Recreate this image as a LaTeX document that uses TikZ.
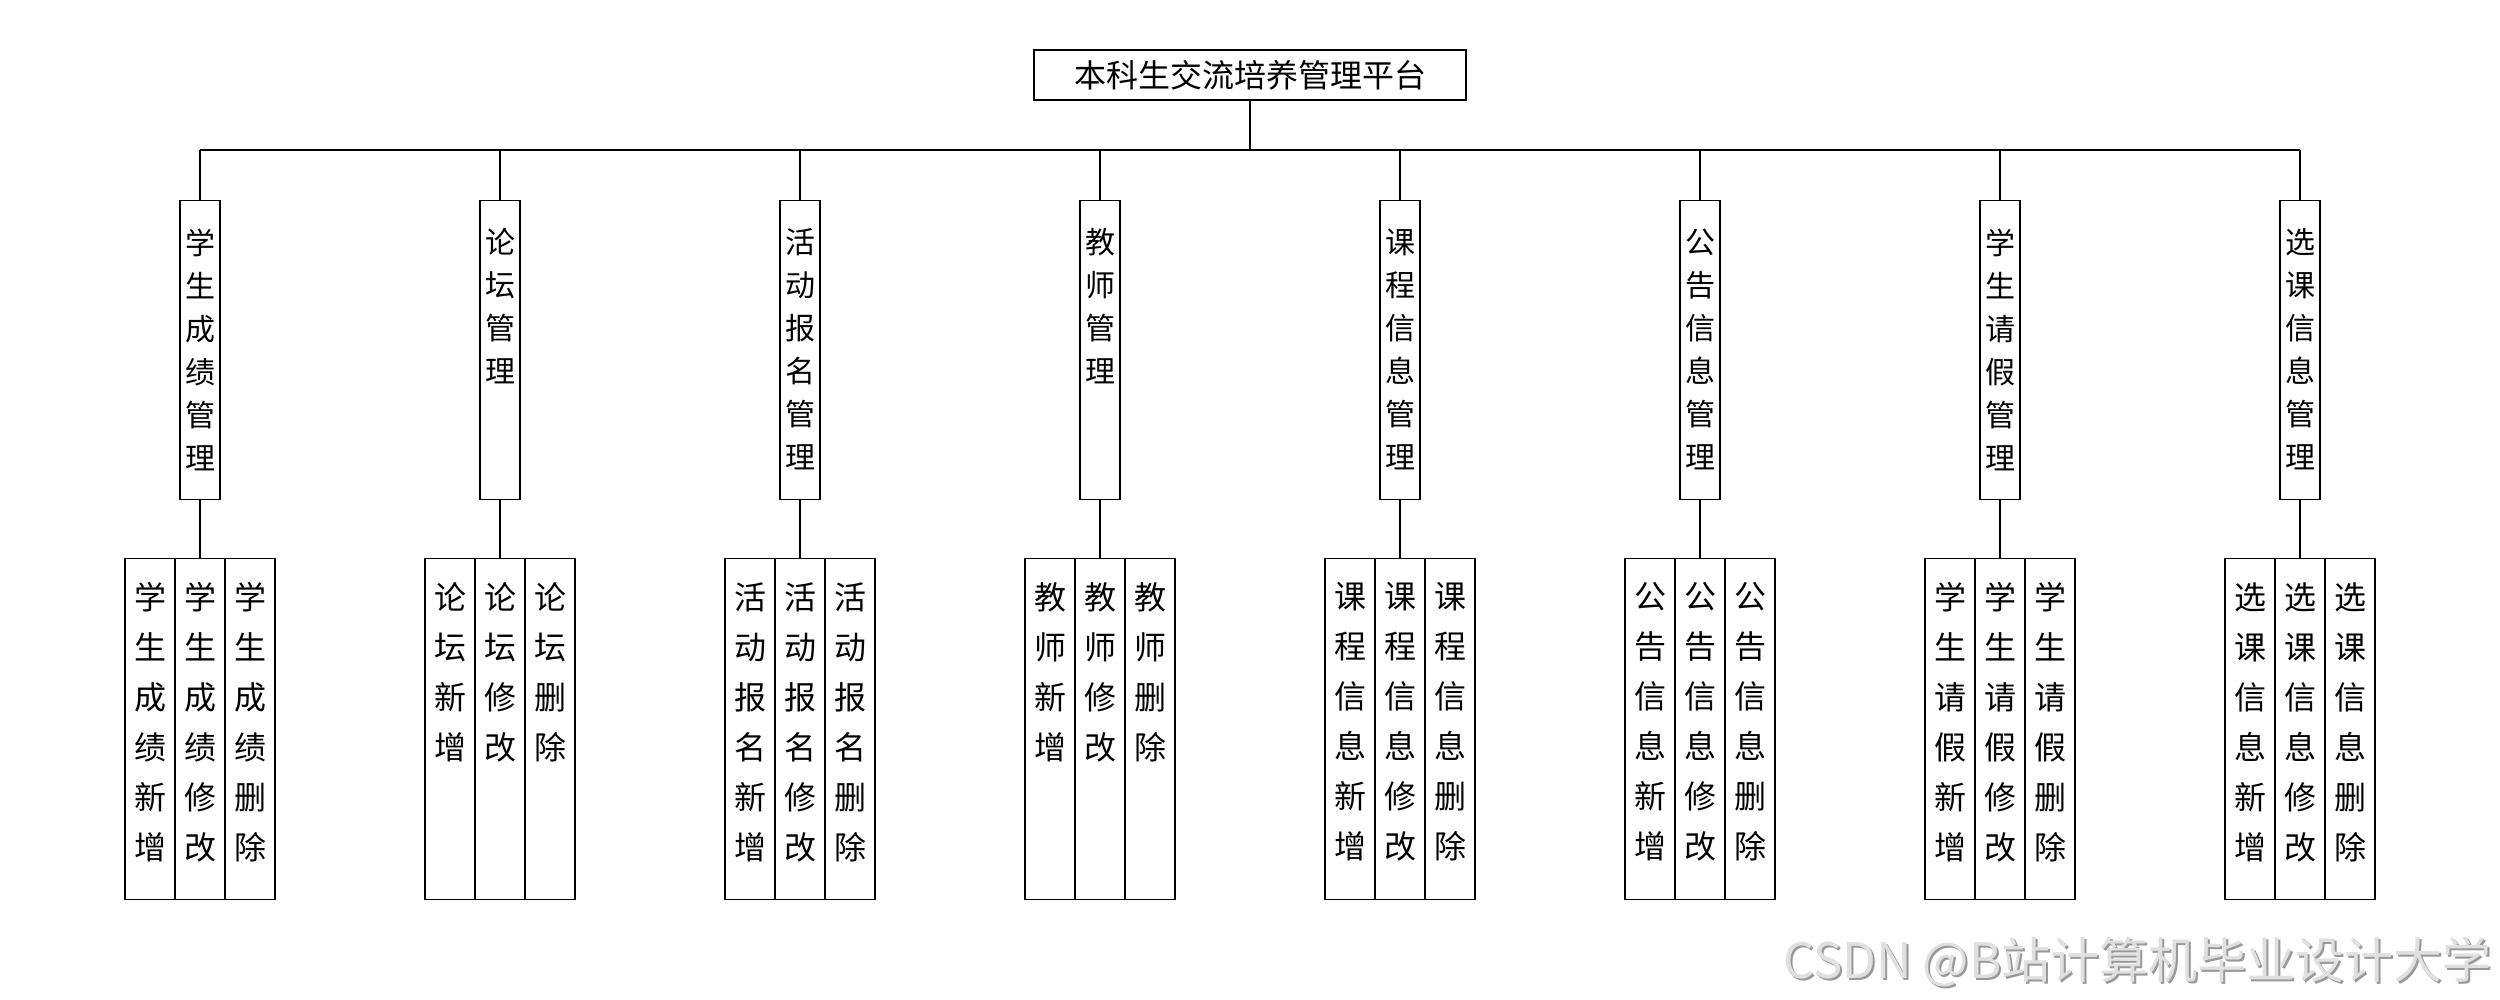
\documentclass[tikz,border=0pt]{standalone}
\usepackage{fontspec}
\setmainfont{Noto Sans CJK SC}
\begin{document}
\begin{tikzpicture}[x=1pt,y=-1pt,
  line width=1.1pt,
  rootbox/.style={draw, inner sep=0pt, minimum width=432pt, minimum height=50pt,
    font=\fontsize{32}{36}\selectfont},
  midbox/.style={draw, inner sep=0pt, minimum width=40pt, minimum height=299pt, anchor=north},
  midtext/.style={inner sep=0pt, anchor=north, align=center, font=\fontsize{30}{43}\selectfont},
  leafbox/.style={draw, inner sep=0pt, minimum width=50pt, minimum height=341pt, anchor=north},
  leaftext/.style={inner sep=0pt, anchor=north, align=center, font=\fontsize{32}{50}\selectfont},
  wmshadow/.style={inner sep=0pt, anchor=base east, text=black!40, font=\fontsize{49}{52}\selectfont},
  wmtext/.style={inner sep=0pt, anchor=base east, text=black!12, font=\fontsize{49}{52}\selectfont}
]
\fill[white] (0,0) rectangle (2500,1000);
\useasboundingbox (0,0) rectangle (2500,1000);

% platform
\node[rootbox] (root) at (1250,75) {本科生交流培养管理平台};

% one management branch: #1 id, #2 centre x, #3 stacked name prefix
\newcommand\branch[3]{%
  \coordinate (bus#1) at (#2,150);
  \node[midbox] (m#1) at (#2,200) {};
  \node[midtext] (mt#1) at (#2,228) {#3\\管\\理};
  \node[leafbox] (la#1) at (#2-50,558) {};
  \node[leafbox] (lb#1) at (#2,558) {};
  \node[leafbox] (lc#1) at (#2+50,558) {};
  \node[leaftext] (ta#1) at (#2-50,582) {#3\\新\\增};
  \node[leaftext] (tb#1) at (#2,582) {#3\\修\\改};
  \node[leaftext] (tc#1) at (#2+50,582) {#3\\删\\除};
  \draw (bus#1) -- (m#1.north);
  \draw (m#1.south) -- (lb#1.north);
}

\branch{1}{200}{学\\生\\成\\绩}
\branch{2}{500}{论\\坛}
\branch{3}{800}{活\\动\\报\\名}
\branch{4}{1100}{教\\师}
\branch{5}{1400}{课\\程\\信\\息}
\branch{6}{1700}{公\\告\\信\\息}
\branch{7}{2000}{学\\生\\请\\假}
\branch{8}{2300}{选\\课\\信\\息}

% bus line
\draw (bus1) -- (bus8);
\draw (root.south) -- (root.south |- bus1);

% watermark
\node[wmshadow] (wms) at (2494,980) {CSDN @B站计算机毕业设计大学};
\node[wmtext] (wm) at (2492,978) {CSDN @B站计算机毕业设计大学};
\end{tikzpicture}
\end{document}
